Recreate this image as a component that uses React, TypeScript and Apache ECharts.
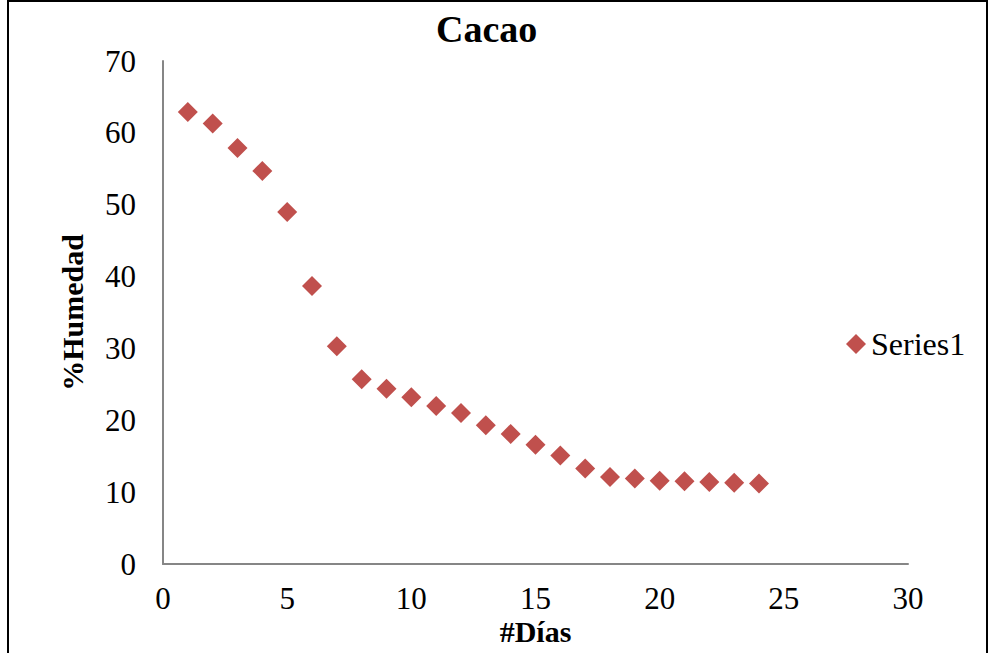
import React, { useEffect, useRef } from "react";
import * as echarts from "echarts";

const days = [1, 2, 3, 4, 5, 6, 7, 8, 9, 10, 11, 12, 13, 14, 15, 16, 17, 18, 19, 20, 21, 22, 23, 24];
const humedad = [62.9, 61.3, 57.9, 54.7, 49.0, 38.7, 30.3, 25.7, 24.4, 23.2, 22.0, 21.0, 19.3, 18.1, 16.6, 15.1, 13.3, 12.1, 11.9, 11.6, 11.5, 11.4, 11.3, 11.2];
const seriesName = "Series1";
const titleText = "Cacao";
const xName = "#Días";
const yName = "%Humedad";

const serif = "Liberation Serif";

export default function App() {
  const ref = useRef<HTMLDivElement>(null);
  useEffect(() => {
    if (!ref.current) return;
    const chart = echarts.init(ref.current, null, { renderer: "svg" });
    chart.setOption({
      animation: false,
      backgroundColor: "#ffffff",
      title: {
        text: titleText,
        left: 436,
        top: 10,
        padding: 0,
        textStyle: { fontFamily: serif, fontSize: 38, fontWeight: "bold", color: "#000" },
      },
      legend: {
        left: 846,
        top: 328,
        orient: "vertical",
        icon: "diamond",
        itemWidth: 20,
        itemHeight: 20,
        itemGap: 5,
        padding: 0,
        textStyle: { fontFamily: serif, fontSize: 32, color: "#000" },
        data: [seriesName],
      },
      graphic: [
        {
          type: "rect",
          shape: { x: 8, y: 1, width: 979, height: 700 },
          style: { fill: "none", stroke: "#000", lineWidth: 2 },
          silent: true,
        },
      ],
      grid: { left: 163, right: 81, top: 61, bottom: 89, containLabel: false, outerBoundsMode: "none" },
      xAxis: {
        type: "value",
        min: 0,
        max: 30,
        interval: 5,
        name: xName,
        nameLocation: "middle",
        nameGap: 54,
        nameMoveOverlap: false,
        nameTextStyle: { fontFamily: serif, fontSize: 30, fontWeight: "bold", color: "#000", lineHeight: 26 },
        axisLine: { show: true, lineStyle: { color: "#868686", width: 2 } },
        axisTick: { show: false },
        splitLine: { show: false },
        axisLabel: { fontFamily: serif, fontSize: 31, color: "#000", margin: 22, lineHeight: 24 },
      },
      yAxis: {
        type: "value",
        min: 0,
        max: 70,
        interval: 10,
        name: yName,
        nameLocation: "middle",
        nameGap: 76,
        nameMoveOverlap: false,
        nameTextStyle: { fontFamily: serif, fontSize: 30, fontWeight: "bold", color: "#000" },
        axisLine: { show: true, lineStyle: { color: "#868686", width: 2 } },
        axisTick: { show: false },
        splitLine: { show: false },
        axisLabel: { fontFamily: serif, fontSize: 31, color: "#000", margin: 27 },
      },
      series: [
        {
          name: seriesName,
          type: "scatter",
          symbol: "diamond",
          symbolSize: 20,
          itemStyle: { color: "#C0504D", opacity: 1 },
          data: days.map((d, i) => [d, humedad[i]]),
        },
      ],
    });
    return () => chart.dispose();
  }, []);
  return (
    <div style={{ position: "absolute", left: 0, top: 0, width: 989, height: 653, background: "#fff" }}>
      <div ref={ref} style={{ width: 989, height: 653 }} />
    </div>
  );
}
